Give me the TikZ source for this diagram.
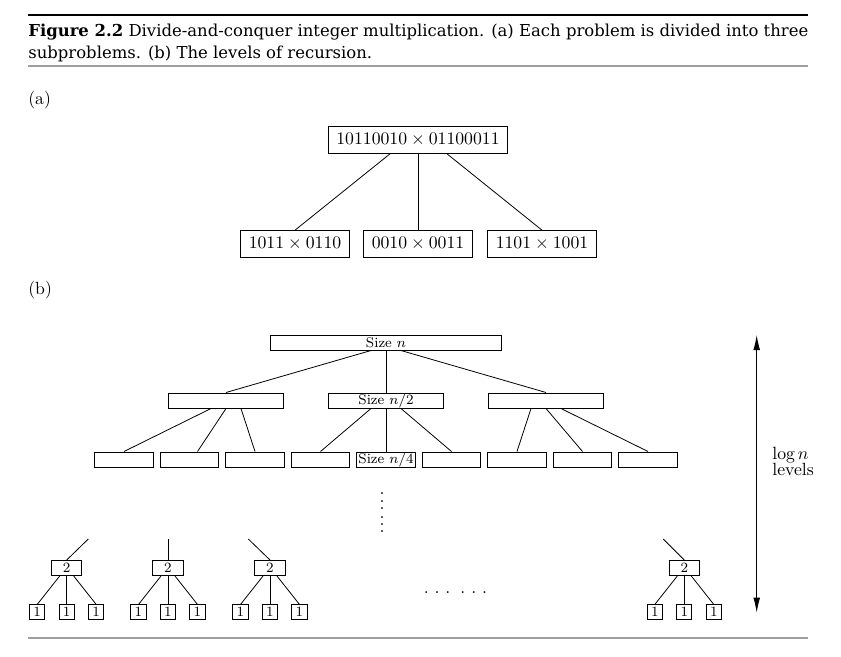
\documentclass[tikz,border=0pt]{standalone}
\usepackage{amsmath}
\usepackage{fontspec}
\newfontfamily\capfont{DejaVu Serif}
\usetikzlibrary{positioning,arrows.meta,calc}

\tikzset{
  numbox/.style={draw, line width=0.6pt, inner xsep=4.5pt, minimum height=15pt},
  lvlbox/.style={draw, line width=0.55pt, inner sep=0pt, minimum height=8.5pt, font=\footnotesize},
  twobox/.style={lvlbox, minimum width=17pt},
  onebox/.style={lvlbox, minimum width=8.5pt, minimum height=8pt},
  edge/.style={line width=0.45pt},
  rulebar/.style={line width=1.1pt},
  captext/.style={anchor=base west, inner sep=0pt, font=\capfont\fontsize{9.3}{11}\selectfont},
}

\begin{document}
\begin{tikzpicture}[x=0.565pt, y=-0.565pt]
  \useasboundingbox (0,0) rectangle (841,656);

  % Titulo de la figura
  \draw[rulebar] (28,15) -- (808,15);
  \node[captext] (cap1) at (28,36)
    {\textbf{Figure 2.2} Divide-and-conquer integer multiplication. (a) Each problem is divided into three};
  \node[captext] (cap2) at (28,58) {subproblems. (b) The levels of recursion.};
  \draw[rulebar, gray!75] (28,66) -- (808,66);

  % (a) un nivel de la division
  \node[anchor=base west, inner sep=0pt] (lbla) at (28,104) {(a)};
  \node[numbox] (top) at (418,140) {$10110010 \times 01100011$};
  \node[numbox] (sub1) at (295,244) {$1011 \times 0110$};
  \node[numbox] (sub2) at (418,244) {$0010 \times 0011$};
  \node[numbox] (sub3) at (542,244) {$1101 \times 1001$};
  \draw[edge] ($(top.south)+(-28,0)$) -- (sub1.north);
  \draw[edge] (top.south) -- (sub2.north);
  \draw[edge] ($(top.south)+(29,0)$) -- (sub3.north);

  % (b) niveles de la recursion
  \node[anchor=base west, inner sep=0pt] (lblb) at (28,294) {(b)};
  \node[lvlbox, minimum width=131pt] (szn) at (386,342.5) {Size $n$};

  % Nivel 2
  \node[lvlbox, minimum width=65.5pt] (hA) at (226,400.5) {};
  \node[lvlbox, minimum width=65.5pt] (hB) at (386,400.5) {Size $n/2$};
  \node[lvlbox, minimum width=65.5pt] (hC) at (546,400.5) {};
  \foreach \k/\dx in {A/-15, B/0, C/15}
    \draw[edge] ($(szn.south)+(\dx,0)$) -- (h\k.north);

  % Nivel 3
  \foreach \i in {1,2,3,4,6,7,8,9}
    \node[lvlbox, minimum width=33pt] (q\i) at ({124+65.5*(\i-1)},459.5) {};
  \node[lvlbox, minimum width=33pt] (q5) at (386,459.5) {Size $n/4$};
  \foreach \p/\a/\b/\c/\s in {A/1/2/3/8, B/4/5/6/0, C/7/8/9/0}{
    \draw[edge] ($(h\p.south)+(-15,0)$) -- (q\a.north);
    \draw[edge] (h\p.south) -- ($(q\b.north)+(\s,0)$);
    \draw[edge] ($(h\p.south)+(15,0)$) -- (q\c.north);
  }

  % Puntos suspensivos
  \node[inner sep=0pt] (vd) at (382,513)
    {\vbox{\baselineskip=4pt\lineskiplimit=0pt\hbox{.}\hbox{.}\hbox{.}\kern1.5pt\hbox{.}\hbox{.}\hbox{.}}};
  \node[anchor=base west, inner sep=0pt] (hd) at (423.5,593.5) {.\ .\ .\hspace{5.7pt}.\ .\ .};

  % Ultimo nivel: tamano 2 y tamano 1
  \foreach \t/\x/\sx in {1/66.7/88.3, 2/168/168, 3/270/248.3, 4/684.3/663.3}{
    \coordinate (st\t) at (\sx,539);
    \node[twobox] (two\t) at (\x,568) {2};
    \draw[edge] (st\t) -- (two\t.north);
    \foreach \j/\dx in {a/-29.5, b/0, c/29.5}
      \node[onebox] (one\t\j) at ({\x+\dx},612) {1};
    \draw[edge] ($(two\t.south)+(-7,0)$) -- (one\t a.north);
    \draw[edge] (two\t.south) -- (one\t b.north);
    \draw[edge] ($(two\t.south)+(7,0)$) -- (one\t c.north);
  }

  % Flecha de niveles
  \coordinate (atop) at (756.7,335);
  \coordinate (abot) at (756.7,612.7);
  \draw[{Latex[length=8.5pt,width=3.8pt]}-{Latex[length=8.5pt,width=3.8pt]}, line width=0.5pt]
    (atop) -- (abot);
  \node[anchor=north west, align=left, inner sep=0pt] (lvl) at (772,447) {$\log n$\\[-3pt]levels};

  \draw[rulebar, gray!75] (28,638) -- (808,638);
\end{tikzpicture}
\end{document}
